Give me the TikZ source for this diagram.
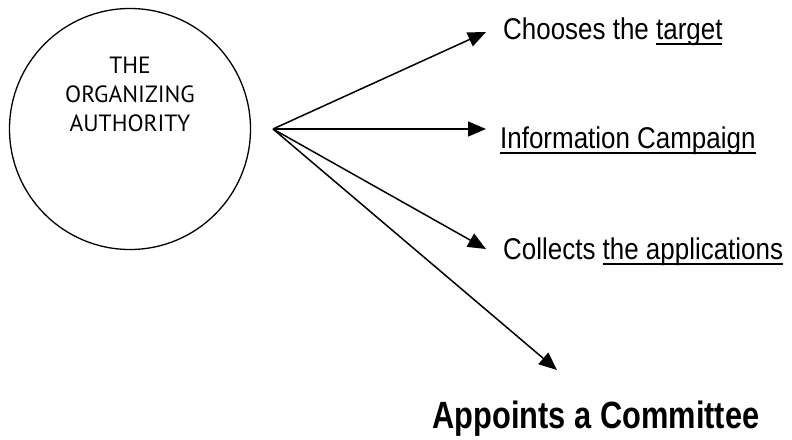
\documentclass[tikz,border=0pt]{standalone}
\usepackage{fontspec}
\setmainfont{Liberation Sans}
\newfontfamily\circfont{PT Sans}
\newfontfamily\stepfont[FakeStretch=0.865]{Liberation Sans}
\newfontfamily\bigstepfont[FakeStretch=0.81]{Liberation Sans}
\usetikzlibrary{arrows.meta}
\newsavebox\ulbox
\newcommand{\ulword}[1]{\sbox\ulbox{#1}\rlap{\rule[-6pt]{\wd\ulbox}{1.8pt}}\usebox\ulbox}
\tikzset{
	steptext/.style={anchor=base west,inner sep=0pt,font=\stepfont\fontsize{30}{34}\selectfont},
	fanarrow/.style={line width=1.5pt,-{Triangle[length=18pt,width=15pt]}}
}

\begin{document}
\begin{tikzpicture}[x=1pt,y=-1pt]
	\useasboundingbox (0,0) rectangle (792,439);
	\node[circle,draw,line width=1.3pt,minimum size=241pt,inner sep=0pt] (auth) at (130,129) {};
	\node[anchor=north,inner sep=0pt,align=center,font=\circfont\fontsize{23.5}{29}\selectfont] (authtext) at (130,57) {THE\\ORGANIZING\\AUTHORITY};
	% the fan of arrows
	\coordinate (hub) at (273,129);
	\coordinate (tipA) at (486,32);
	\coordinate (tipB) at (486,129);
	\coordinate (tipC) at (486,249);
	\coordinate (tipD) at (557,370);
	\node[steptext] (target) at (503,39) {Chooses the \ulword{target}};
	\node[steptext] (campaign) at (500,148) {\ulword{Information Campaign}};
	\node[steptext] (collects) at (503,259) {Collects \ulword{the applications}};
	\node[anchor=base,inner sep=0pt,font=\bigstepfont\bfseries\fontsize{38}{42}\selectfont] (committee) at (596,428) {Appoints a Committee};
	\foreach \t in {tipA,tipB,tipC,tipD}
		\draw[fanarrow] (hub) -- (\t);
\end{tikzpicture}
\end{document}
